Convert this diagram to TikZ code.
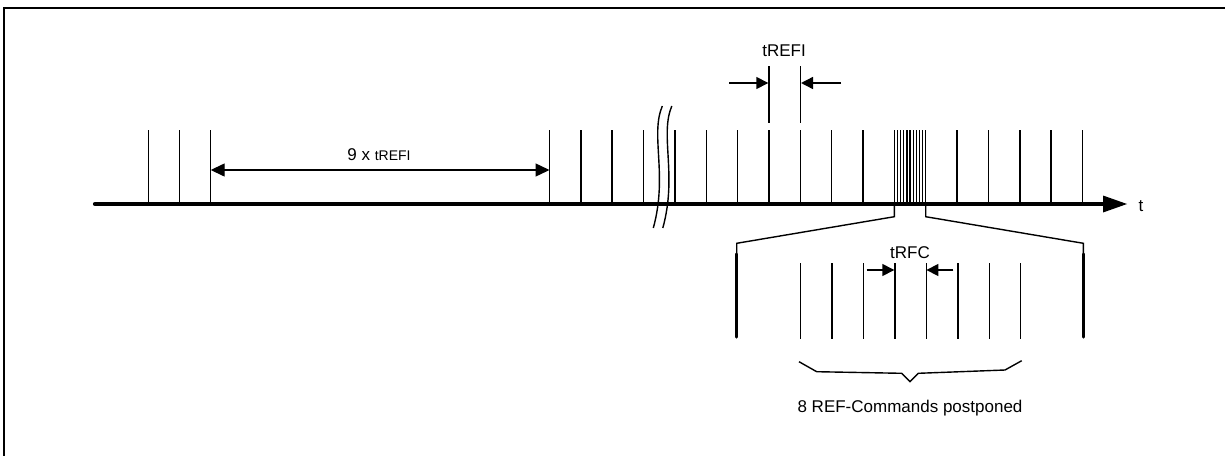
\documentclass[tikz,border=0pt]{standalone}
\usepackage{fontspec}
\setmainfont{Liberation Sans}
\usetikzlibrary{arrows.meta}
\begin{document}
\begin{tikzpicture}[x=1pt,y=-1pt,
  tickline/.style={line width=1.5pt},
  axisline/.style={line width=4.2pt, line cap=round},
  thinline/.style={line width=1.4pt},
  barline/.style={line width=3.2pt, line cap=round},
  dimarrow/.style={line width=1.4pt, -{Triangle[length=12pt,width=12pt]}},
  dimboth/.style={line width=1.4pt, {Triangle[length=14pt,width=13pt]}-{Triangle[length=14pt,width=13pt]}},
  lbl/.style={inner sep=0pt, font=\fontsize{17}{20}\selectfont, anchor=base},
]
\useasboundingbox (0,0) rectangle (1225,455);
% frame
\draw[line width=2pt] (3.5,470) -- (3.5,7.5) -- (1240,7.5);

% time axis
\coordinate (a0) at (95,204);
\coordinate (a1) at (1104,204);
\coordinate (tip) at (1127,204);
\draw[axisline] (a0) -- (a1);
\fill (1103,195.5) -- (tip) -- (1103,212.5) -- cycle;
\node[lbl] (lT) at (1141,211.7) {t};

% early ticks
\foreach \x in {148.3,179.3,210.7}
  \draw[tickline] (\x,130) -- (\x,204);
% regular ticks
\foreach \k in {0,...,17}
  \draw[tickline] ({549.5+31.35*\k},130) -- ({549.5+31.35*\k},204);
% dense ticks (postponed refreshes)
\foreach \k in {1,...,9}
  \draw[line width=1.2pt] ({894.35+3.135*\k},130) -- ({894.35+3.135*\k},204);

\coordinate (t2) at (210.7,170);
\coordinate (t3) at (549.5,170);
\draw[dimboth] (t2) -- (t3);
\node[lbl] (lNine) at (379,160) {9 x {\fontsize{14}{16}\selectfont tREFI}};

% break symbol
\draw[thinline] (662.3,106) .. controls (650,135) and (668,175) .. (653.3,228);
\draw[thinline] (671.8,106) .. controls (659.5,135) and (677.5,175) .. (662.8,228);

% tREFI dimension
\coordinate (e1) at (768.95,66);
\coordinate (e2) at (800.3,66);
\draw[tickline] (e1) -- (768.95,123);
\draw[tickline] (e2) -- (800.3,123);
\coordinate (r1) at (729,83);
\coordinate (r2) at (841,83);
\draw[dimarrow] (r1) -- (768.3,83);
\draw[dimarrow] (r2) -- (801,83);
\node[lbl] (lREFI) at (784,56.7) {tREFI};

% zoom lens
\coordinate (zl) at (894.35,204);
\coordinate (zr) at (925.7,204);
\draw[thinline] (zl) -- (894.35,216.7) -- (736.7,243.3) -- (736.7,253);
\draw[thinline] (zr) -- (925.7,216.7) -- (1083.3,243.3) -- (1083.3,253);
\draw[barline] (736.7,254) -- (736.7,337);
\draw[barline] (1083.3,254) -- (1083.3,337);

% postponed refresh commands
\foreach \k in {0,...,7}
  \draw[thinline] ({800.7+31.43*\k},263) -- ({800.7+31.43*\k},338.5);
\draw[dimarrow] (866.7,270) -- (894.3,270);
\draw[dimarrow] (953.3,270) -- (926.4,270);
\node[lbl] (lRFC) at (910,258.3) {tRFC};

% brace
\draw[thinline] (799,361.7) -- (816.7,371.7) -- (901.7,373.3) -- (910,381.7)
  -- (918.3,373.3) -- (1005,370) -- (1021.7,360.7);
\node[lbl] (lPost) at (910,412) {8 REF-Commands postponed};
\end{tikzpicture}
\end{document}
